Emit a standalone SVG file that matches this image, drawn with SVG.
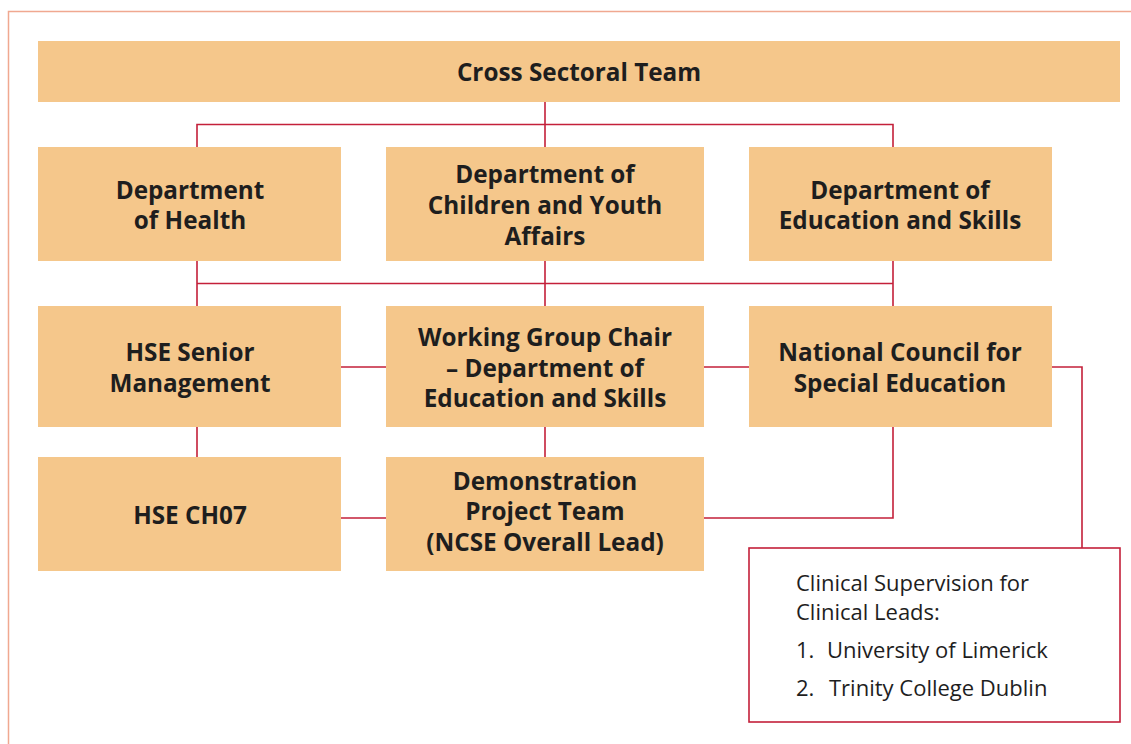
<svg xmlns="http://www.w3.org/2000/svg" width="1131" height="744" viewBox="0 0 1131 744">
<style>
.box{fill:#f5c78b}
.t{font-family:"Open Sans","Liberation Sans",sans-serif;font-weight:700;font-size:24.3px;fill:#1e1e1e;text-anchor:middle}
.c{fill:none;stroke:#c4203a;stroke-width:1.6}
.r{font-family:"Open Sans","Liberation Sans",sans-serif;font-size:22px;fill:#1e1e1e}
</style>
<rect width="1131" height="744" fill="#ffffff"/>
<path d="M8.5 744 V11.5 H1131" fill="none" stroke="#f0a890" stroke-width="1.5"/>
<g id="connectors">
<path class="c" d="M545 102 V147 M197 147 V124.5 H893 V147"/>
<path class="c" d="M197 261 V306 M545 261 V306 M893 261 V306 M197 283.5 H893"/>
<path class="c" d="M341 367 H386 M704 367 H749"/>
<path class="c" d="M197 427 V457 M545 427 V457"/>
<path class="c" d="M341 518 H386 M704 518 H893 V427"/>
<path class="c" d="M1052 367 H1082 V548"/>
</g>
<g id="cross-sectoral">
<rect class="box" x="38" y="41" width="1082" height="61"/>
<text class="t" x="579" y="81">Cross Sectoral Team</text>
</g>
<g id="dept-health">
<rect class="box" x="38" y="147" width="303" height="114"/>
<text class="t" x="190" y="199">Department</text>
<text class="t" x="190" y="229">of Health</text>
</g>
<g id="dept-children">
<rect class="box" x="386" y="147" width="318" height="114"/>
<text class="t" x="545" y="183">Department of</text>
<text class="t" x="545" y="214">Children and Youth</text>
<text class="t" x="545" y="245">Affairs</text>
</g>
<g id="dept-education">
<rect class="box" x="749" y="147" width="303" height="114"/>
<text class="t" x="900" y="199">Department of</text>
<text class="t" x="900" y="229">Education and Skills</text>
</g>
<g id="hse-senior">
<rect class="box" x="38" y="306" width="303" height="121"/>
<text class="t" x="190" y="361">HSE Senior</text>
<text class="t" x="190" y="392">Management</text>
</g>
<g id="working-group">
<rect class="box" x="386" y="306" width="318" height="121"/>
<text class="t" x="545" y="346">Working Group Chair</text>
<text class="t" x="545" y="377">– Department of</text>
<text class="t" x="545" y="407">Education and Skills</text>
</g>
<g id="ncse">
<rect class="box" x="749" y="306" width="303" height="121"/>
<text class="t" x="900" y="361">National Council for</text>
<text class="t" x="900" y="392">Special Education</text>
</g>
<g id="hse-ch07">
<rect class="box" x="38" y="457" width="303" height="114"/>
<text class="t" x="190" y="524">HSE CH07</text>
</g>
<g id="demonstration">
<rect class="box" x="386" y="457" width="318" height="114"/>
<text class="t" x="545" y="490">Demonstration</text>
<text class="t" x="545" y="520">Project Team</text>
<text class="t" x="545" y="551">(NCSE Overall Lead)</text>
</g>
<g id="clinical">
<rect x="749" y="548" width="371" height="174" fill="#ffffff" stroke="#c4203a" stroke-width="1.6"/>
<text class="r" x="796" y="591">Clinical Supervision for</text>
<text class="r" x="796" y="620">Clinical Leads:</text>
<text class="r" x="796" y="658">1.</text>
<text class="r" x="827" y="658">University of Limerick</text>
<text class="r" x="796" y="696">2.</text>
<text class="r" x="829" y="696">Trinity College Dublin</text>
</g>
</svg>
